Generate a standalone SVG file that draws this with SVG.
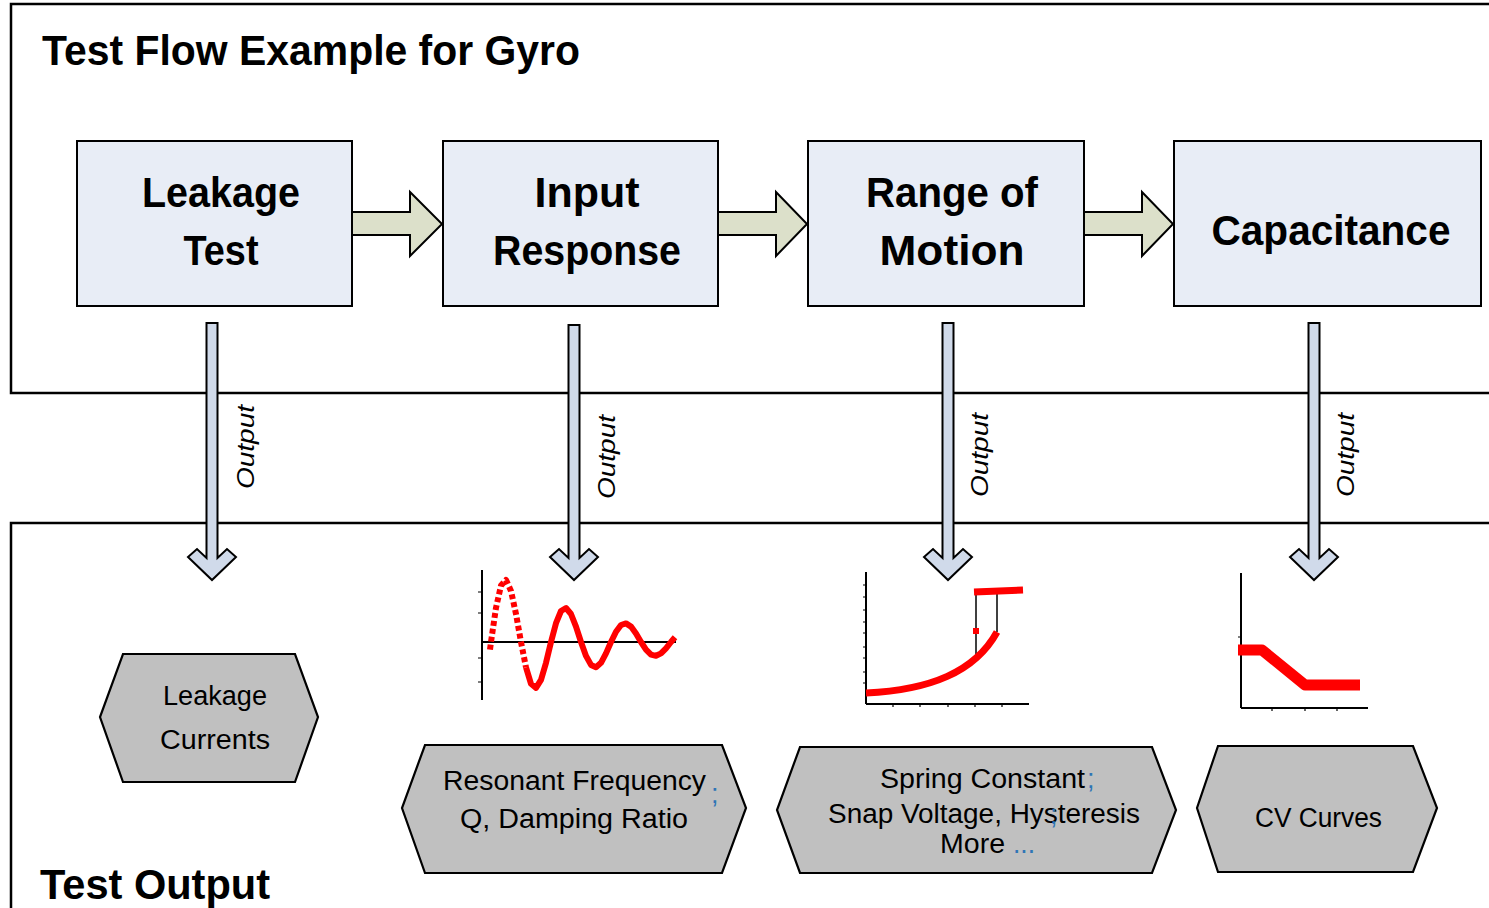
<svg xmlns="http://www.w3.org/2000/svg" width="1489" height="908" viewBox="0 0 1489 908">
<style>
.frame{fill:none;stroke:#000;stroke-width:2.5}
.box{fill:#E8EDF6;stroke:#000;stroke-width:2}
.hex{fill:#C0C0C0;stroke:#000;stroke-width:2.2}
.rarrow{fill:#DCE0CA;stroke:#000;stroke-width:2}
.darrow{fill:#D0DAEA;stroke:#000;stroke-width:2}
.bt{font-family:"Liberation Sans",Arial,sans-serif;font-weight:bold;font-size:42px;fill:#000}
.nt{font-family:"Liberation Sans",Arial,sans-serif;font-size:27px;fill:#000}
.blue{font-family:"Liberation Sans",Arial,sans-serif;font-size:27px;fill:#2E75B6}
.out{font-family:"Liberation Sans",Arial,sans-serif;font-style:italic;font-size:24px;fill:#000}
.axis{fill:none;stroke:#000;stroke-width:2}
.tick{fill:none;stroke:#000;stroke-width:1.2}
.red{fill:none;stroke:#FF0000;stroke-linejoin:round}
</style>
<rect width="1489" height="908" fill="#fff"/>
<g id="frames">
<rect class="frame" x="11" y="4" width="1500" height="389"/>
<rect class="frame" x="11" y="523" width="1500" height="400"/>
<text class="bt" x="42" y="65" textLength="538" lengthAdjust="spacingAndGlyphs">Test Flow Example for Gyro</text>
<text class="bt" x="40" y="899" textLength="230" lengthAdjust="spacingAndGlyphs">Test Output</text>
</g>
<g id="connectors">
<polygon class="rarrow" points="352,212 410,212 410,192 442,224 410,256 410,235 352,235"/>
<polygon class="rarrow" points="718,212 776,212 776,192 807,224 776,256 776,235 718,235"/>
<polygon class="rarrow" points="1084,212 1142,212 1142,192 1173,224 1142,256 1142,235 1084,235"/>
<polygon class="darrow" points="206.5,323 217.5,323 217.5,558 227,549 236,557 212,580 188,557 197,549 206.5,558"/>
<polygon class="darrow" points="568.5,325 579.5,325 579.5,558 589,549 598,557 574,580 550,557 559,549 568.5,558"/>
<polygon class="darrow" points="942.5,323 953.5,323 953.5,558 963,549 972,557 948,580 924,557 933,549 942.5,558"/>
<polygon class="darrow" points="1308.5,323 1319.5,323 1319.5,558 1329,549 1338,557 1314,580 1290,557 1299,549 1308.5,558"/>
<text class="out" transform="translate(254,447) rotate(-90)" text-anchor="middle" textLength="84" lengthAdjust="spacingAndGlyphs">Output</text>
<text class="out" transform="translate(615,457) rotate(-90)" text-anchor="middle" textLength="84" lengthAdjust="spacingAndGlyphs">Output</text>
<text class="out" transform="translate(988,455) rotate(-90)" text-anchor="middle" textLength="84" lengthAdjust="spacingAndGlyphs">Output</text>
<text class="out" transform="translate(1354,455) rotate(-90)" text-anchor="middle" textLength="84" lengthAdjust="spacingAndGlyphs">Output</text>
</g>
<g id="leakage-test">
<rect class="box" x="77" y="141" width="275" height="165"/>
<text class="bt" x="221" y="207" text-anchor="middle" textLength="158" lengthAdjust="spacingAndGlyphs">Leakage</text>
<text class="bt" x="221" y="265" text-anchor="middle" textLength="75" lengthAdjust="spacingAndGlyphs">Test</text>
</g>
<g id="input-response">
<rect class="box" x="443" y="141" width="275" height="165"/>
<text class="bt" x="587" y="207" text-anchor="middle" textLength="105" lengthAdjust="spacingAndGlyphs">Input</text>
<text class="bt" x="587" y="265" text-anchor="middle" textLength="188" lengthAdjust="spacingAndGlyphs">Response</text>
</g>
<g id="range-of-motion">
<rect class="box" x="808" y="141" width="276" height="165"/>
<text class="bt" x="952" y="207" text-anchor="middle" textLength="172" lengthAdjust="spacingAndGlyphs">Range of</text>
<text class="bt" x="952" y="265" text-anchor="middle" textLength="145" lengthAdjust="spacingAndGlyphs">Motion</text>
</g>
<g id="capacitance">
<rect class="box" x="1174" y="141" width="307" height="165"/>
<text class="bt" x="1331" y="245" text-anchor="middle" textLength="239" lengthAdjust="spacingAndGlyphs">Capacitance</text>
</g>
<g id="leakage-currents">
<polygon class="hex" points="123,654 295,654 318,717 295,782 123,782 100,717"/>
<text class="nt" x="215" y="705" text-anchor="middle" textLength="104" lengthAdjust="spacingAndGlyphs">Leakage</text>
<text class="nt" x="215" y="749" text-anchor="middle" textLength="110" lengthAdjust="spacingAndGlyphs">Currents</text>
</g>
<g id="resonant">
<polygon class="hex" points="425,745 722,745 746,808 722,873 425,873 402,808"/>
<text class="nt" x="443" y="790" textLength="263" lengthAdjust="spacingAndGlyphs">Resonant Frequency</text>
<text class="blue" x="711" y="803">;</text>
<text class="nt" x="460" y="828" textLength="228" lengthAdjust="spacingAndGlyphs">Q, Damping Ratio</text>
</g>
<g id="spring">
<polygon class="hex" points="800,747 1152,747 1176,810 1152,873 800,873 777,810"/>
<text class="nt" x="880" y="788" textLength="205" lengthAdjust="spacingAndGlyphs">Spring Constant</text>
<text class="blue" x="1087" y="788">;</text>
<text class="nt" x="828" y="823" textLength="312" lengthAdjust="spacingAndGlyphs">Snap Voltage, Hysteresis</text>
<text class="blue" x="1050" y="824">;</text>
<text class="nt" x="940" y="853" textLength="65" lengthAdjust="spacingAndGlyphs">More</text>
<text class="blue" x="1013" y="853" textLength="22" lengthAdjust="spacingAndGlyphs">...</text>
</g>
<g id="cv-curves">
<polygon class="hex" points="1218,746 1413,746 1437,808 1413,872 1218,872 1197,808"/>
<text class="nt" x="1255" y="827" textLength="127" lengthAdjust="spacingAndGlyphs">CV Curves</text>
</g>
<g id="chart-resonance">
<line class="axis" x1="482" y1="570" x2="482" y2="700"/>
<line class="axis" x1="482" y1="642" x2="676" y2="642"/>
<path class="tick" d="M478,592H482M478,613H482M478,658H482M478,682H482"/>
<polyline class="red" stroke-width="6" stroke-dasharray="5 3" stroke-linejoin="miter" points="490,649.6 491,642 496,607.8 501,585.6 506,580 511,590.9 516,614 521,642 526,667.4"/>
<polyline class="red" stroke-width="6" points="526,667.4 531,683.8 536,687.9 541,679.8 546,662.8 551,642 556,623.2 561,611 566,608 571,614 576,626.6 581,642 586,655.9 591,664.9 596,667.2 601,662.8 606,653.4 611,642 616,631.7 621,625 626,623.4 631,626.6 636,633.5 641,642 646,649.6 651,654.6 656,655.8 661,653.4 666,648.3 671,642 675,637.3"/>
</g>
<g id="chart-hysteresis">
<line class="axis" x1="866" y1="572" x2="866" y2="704"/>
<line class="axis" x1="866" y1="704" x2="1029" y2="704"/>
<path class="tick" d="M863,585H866M863,597H866M863,610H866M863,622H866M863,633H866M863,647H866M863,658H866M863,672H866M863,683H866M893,704V707M920,704V707M948,704V707M975,704V707M1002,704V707"/>
<line x1="976" y1="660" x2="976" y2="592" stroke="#000" stroke-width="1.5"/>
<line x1="997" y1="632" x2="997" y2="592" stroke="#000" stroke-width="1.5"/>
<path class="red" stroke-width="7" d="M866,693 C930,690 975,672 997,632"/>
<line class="red" stroke-width="7" x1="974" y1="592" x2="1023" y2="590"/>
<rect x="973" y="628" width="6" height="6" fill="#FF0000"/>
</g>
<g id="chart-cv">
<line class="axis" x1="1241" y1="573" x2="1241" y2="708"/>
<line class="axis" x1="1241" y1="708" x2="1368" y2="708"/>
<path class="tick" d="M1238,637H1241M1272,708V711M1305,708V711M1337,708V711"/>
<polyline class="red" stroke-width="11" stroke-linejoin="miter" points="1238,650 1262,650 1305,685 1360,685"/>
</g>
</svg>
